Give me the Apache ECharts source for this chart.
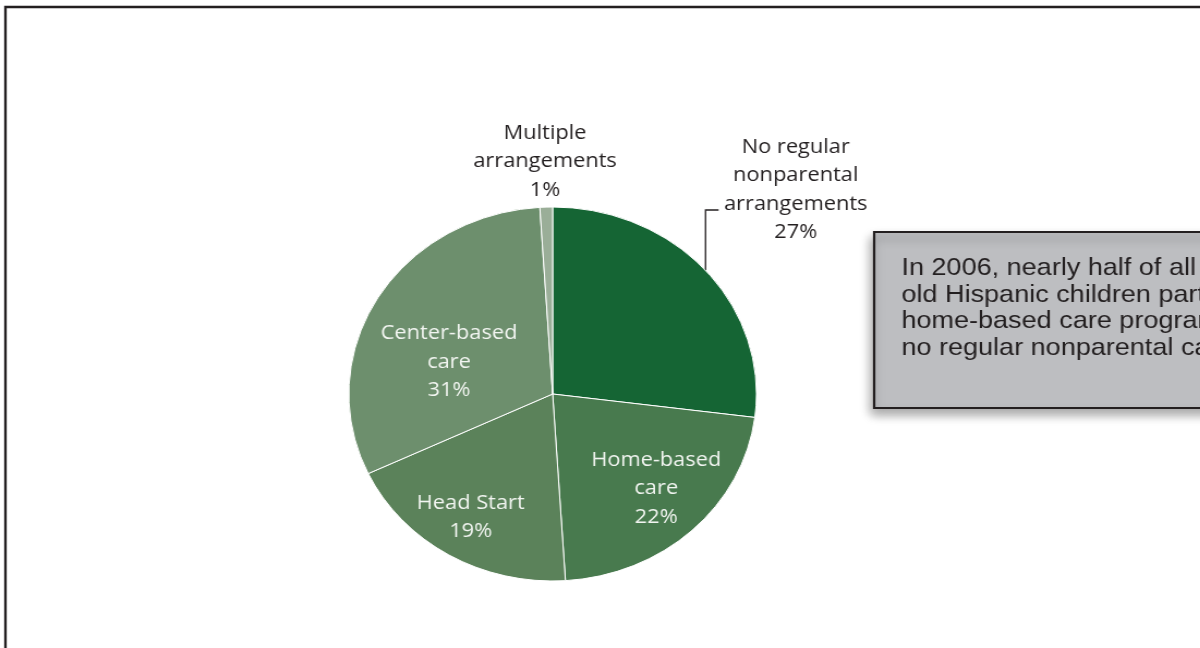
<!DOCTYPE html>
<html>
<head>
<meta charset="utf-8">
<title>Child care arrangements, Hispanic children</title>
<script src="https://cdn.jsdelivr.net/npm/echarts@6/dist/echarts.min.js"></script>
<style>
  html, body { margin: 0; padding: 0; background: #fff; overflow: hidden; }
  #wrap { width: 1200px; height: 648px; overflow: hidden; position: relative; }
  /* the source picture is stretched sideways, so the chart is drawn narrower and widened */
  #chart { width: 1101px; height: 648px; transform: scaleX(1.09); transform-origin: 0 0; }
</style>
</head>
<body>
<div id="wrap"><div id="chart"></div></div>
<script>
var categories = [
  'No regular\nnonparental\narrangements',
  'Home-based\ncare',
  'Head Start',
  'Center-based\ncare',
  'Multiple\narrangements'
];
var shares = [27, 22, 19, 31, 1];
var sliceColors = ['#156534', '#487a4e', '#5b825a', '#6d8f6d', '#9aae98'];
var insideLabel = [false, true, true, true, false];

var noteLines = [
  'In 2006, nearly half of all 3- to 5-year-',
  'old Hispanic children participated in center-based care or',
  'home-based care programs, while 27 percent had',
  'no regular nonparental care arrangements.'
];

var chart = echarts.init(document.getElementById('chart'));

// nudges for the labels, in chart pixels
var insideShift = { 1: [29, 24], 2: [-26, 40], 3: [-12, 17] };
var outsideSpot = { 0: [730, 190], 4: [500, 161.5] };

var data = categories.map(function (name, i) {
  var item = {
    name: name,
    value: shares[i],
    itemStyle: { color: sliceColors[i] }
  };
  if (insideLabel[i]) {
    item.label = { position: 'inside', color: '#f2f5f1' };
    item.labelLine = { show: false };
  } else {
    item.label = { position: 'outside', color: '#231f20' };
    item.labelLine = { show: i === 0 };
  }
  return item;
});

var option = {
  animation: false,
  graphic: [
    {
      type: 'rect',
      shape: { x: 5, y: 7, width: 1200, height: 700 },
      style: { fill: 'none', stroke: '#231f20', lineWidth: 2.3 },
      z: 1
    },
    {
      type: 'rect',
      shape: { x: 802, y: 232, width: 400, height: 176 },
      style: {
        fill: '#bdbec1', stroke: '#231f20', lineWidth: 2.2,
        shadowBlur: 10, shadowOffsetX: -2, shadowOffsetY: 6, shadowColor: 'rgba(0,0,0,0.35)'
      },
      z: 2
    },
    {
      type: 'text',
      x: 827,
      y: 255,
      style: {
        text: noteLines.join('\n'),
        font: '24.8px "Liberation Sans", Arial, sans-serif',
        lineHeight: 26.6,
        fill: '#231f20',
        verticalAlign: 'top'
      },
      z: 3
    }
  ],
  series: [{
    type: 'pie',
    center: [507, 394],
    radius: 187,
    startAngle: 90,
    clockwise: true,
    avoidLabelOverlap: false,
    silent: true,
    itemStyle: { borderColor: '#ffffff', borderWidth: 1 },
    label: {
      formatter: function (p) { return p.name + '\n' + p.value + '%'; },
      fontFamily: '"Open Sans", sans-serif',
      fontSize: 20,
      lineHeight: 28.5,
      align: 'center'
    },
    labelLine: {
      length: 20,
      length2: 10,
      lineStyle: { color: '#231f20', width: 1.3 }
    },
    labelLayout: function (p) {
      var i = p.dataIndex;
      if (insideShift[i]) {
        return { dx: insideShift[i][0], dy: insideShift[i][1] };
      }
      var spot = outsideSpot[i];
      var res = { x: spot[0], y: spot[1], align: 'center', verticalAlign: 'middle' };
      if (i === 0 && p.labelLinePoints) {
        var start = p.labelLinePoints[0];
        res.labelLinePoints = [start, [start[0], 210], [start[0] + 12, 210]];
      }
      return res;
    },
    data: data
  }]
};

chart.setOption(option);
</script>
</body>
</html>
